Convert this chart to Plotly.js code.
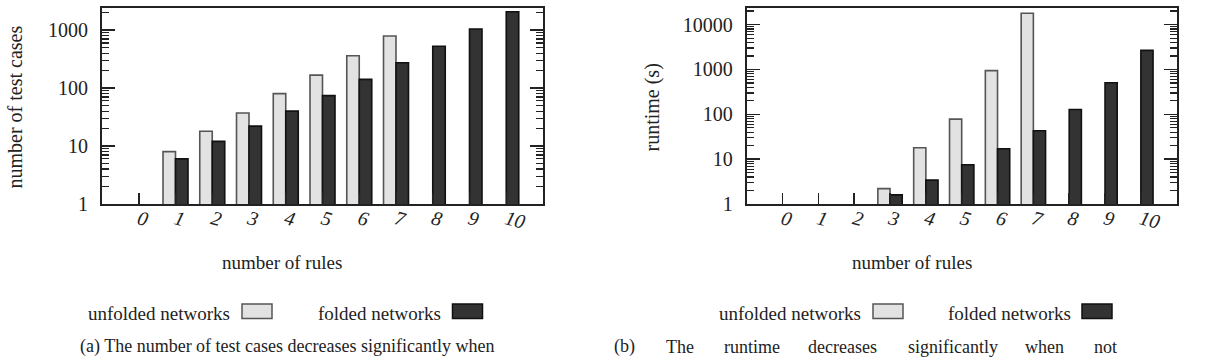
<!DOCTYPE html>
<html>
<head>
<meta charset="utf-8">
<script src="https://cdn.plot.ly/plotly-3.0.1.min.js"></script>
<style>html,body{margin:0;padding:0;background:#fff;}#chart{width:1206px;height:359px;}</style>
</head>
<body>
<div id="chart"></div>
<script>
// ---- data ----
const rules = [0, 1, 2, 3, 4, 5, 6, 7, 8, 9, 10];
const tickLabels = ["0", "1", "2", "3", "4", "5", "6", "7", "8", "9", "10"];
const testCasesUnfolded = [null, 8, 18, 37, 80, 167, 360, 790, null, null, null];
const testCasesFolded   = [null, 6, 12, 22, 40, 74, 141, 273, 524, 1040, 2070];
const runtimeUnfolded   = [null, null, null, 2.2, 18, 78, 940, 17900, null, null, null];
const runtimeFolded     = [null, null, null, 1.6, 3.4, 7.5, 17, 43, 128, 506, 2660];
const seriesNames = ["unfolded networks", "folded networks"];

const serif = '"Liberation Serif", "Times New Roman", serif';
const ink = "#222";
const lightFill = "#e2e2e2", lightEdge = "#555";
const darkFill = "#333", darkEdge = "#111";

function barTrace(y, fill, edge, xa, ya, name) {
  return {
    type: "bar", x: rules, y: y, name: name,
    xaxis: xa, yaxis: ya,
    marker: {color: fill, line: {color: edge, width: 1.6}},
    showlegend: false, hoverinfo: "skip"
  };
}

const data = [
  barTrace(testCasesUnfolded, lightFill, lightEdge, "x", "y", seriesNames[0]),
  barTrace(testCasesFolded, darkFill, darkEdge, "x", "y", seriesNames[1]),
  barTrace(runtimeUnfolded, lightFill, lightEdge, "x2", "y2", seriesNames[0]),
  barTrace(runtimeFolded, darkFill, darkEdge, "x2", "y2", seriesNames[1])
];

const W = 1206, H = 359;
const px = v => v / W;
const py = v => 1 - v / H;

function xAxis(domain) {
  return {
    domain: domain, type: "linear", range: [-1, 11],
    tickmode: "array", tickvals: rules, ticktext: tickLabels,
    tickangle: 15,
    ticks: "inside", ticklen: 11, tickwidth: 1.5, tickcolor: ink,
    showline: true, linewidth: 2, linecolor: ink, mirror: true,
    showgrid: false, zeroline: false, fixedrange: true,
    tickfont: {family: serif, size: 20, color: ink, style: "italic"},
    ticklabelstandoff: -6
  };
}
function yAxis(domain, range, anchor) {
  return {
    domain: domain, type: "log", range: range, anchor: anchor,
    tickmode: "linear", tick0: 0, dtick: 1, tickformat: "d",
    ticks: "inside", ticklen: 13, tickwidth: 1.5, tickcolor: ink,
    minor: {ticks: "inside", ticklen: 7, tickwidth: 1.2, tickcolor: ink, dtick: "D1", showgrid: false},
    showline: true, linewidth: 2, linecolor: ink, mirror: "ticks",
    showgrid: false, zeroline: false, fixedrange: true,
    tickfont: {family: serif, size: 20, color: ink},
    ticklabelstandoff: 8
  };
}

const yDom = [py(204), py(8)];
const layout = {
  width: W, height: H,
  margin: {l: 0, r: 0, t: 0, b: 0},
  paper_bgcolor: "#fff", plot_bgcolor: "#fff",
  font: {family: serif, color: ink},
  barmode: "group", bargap: 0.32, bargroupgap: 0,
  showlegend: false,
  xaxis: Object.assign(xAxis([px(102), px(543)]), {anchor: "y"}),
  yaxis: yAxis(yDom, [0, 3.38], "x"),
  xaxis2: Object.assign(xAxis([px(746.7), px(1176.7)]), {anchor: "y2"}),
  yaxis2: yAxis(yDom, [0, 4.37], "x2"),
  shapes: [],
  annotations: []
};

function txt(text, x, y, size, opts) {
  return Object.assign({
    text: text, xref: "paper", yref: "paper", x: px(x), y: py(y),
    showarrow: false, font: {family: serif, size: size, color: ink},
    xanchor: "center", yanchor: "middle"
  }, opts || {});
}

// axis titles
layout.annotations.push(txt("number of test cases", 15, 107.5, 20, {textangle: -90}));
layout.annotations.push(txt("runtime (s)", 652, 107.5, 20, {textangle: -90}));
layout.annotations.push(txt("number of rules", 281.5, 262.5, 19));
layout.annotations.push(txt("number of rules", 911.5, 262.5, 19));

// legends
function legend(textRight, boxLeft, fill, edge, name) {
  layout.annotations.push(txt(name, textRight, 313, 19, {xanchor: "right"}));
  layout.shapes.push({
    type: "rect", xref: "paper", yref: "paper",
    x0: px(boxLeft), x1: px(boxLeft + 30), y0: py(318.5), y1: py(304),
    fillcolor: fill, line: {color: edge, width: 1.5}
  });
}
legend(232, 242, lightFill, lightEdge, seriesNames[0]);
legend(443, 452.5, darkFill, darkEdge, seriesNames[1]);
legend(863, 873, lightFill, lightEdge, seriesNames[0]);
legend(1073, 1082, darkFill, darkEdge, seriesNames[1]);

// captions
layout.annotations.push(txt("(a) The number of test cases decreases significantly when", 497, 359, 18, {xanchor: "right", yanchor: "bottom"}));
const capWords = [["(b)", 612], ["The", 664], ["runtime", 722], ["decreases", 806], ["significantly", 906], ["when", 1023], ["not", 1092]];
capWords.forEach(w => layout.annotations.push(txt(w[0], w[1], 359, 18, {xanchor: "left", yanchor: "bottom"})));

Plotly.newPlot("chart", data, layout, {staticPlot: true, displayModeBar: false});
</script>
</body>
</html>
